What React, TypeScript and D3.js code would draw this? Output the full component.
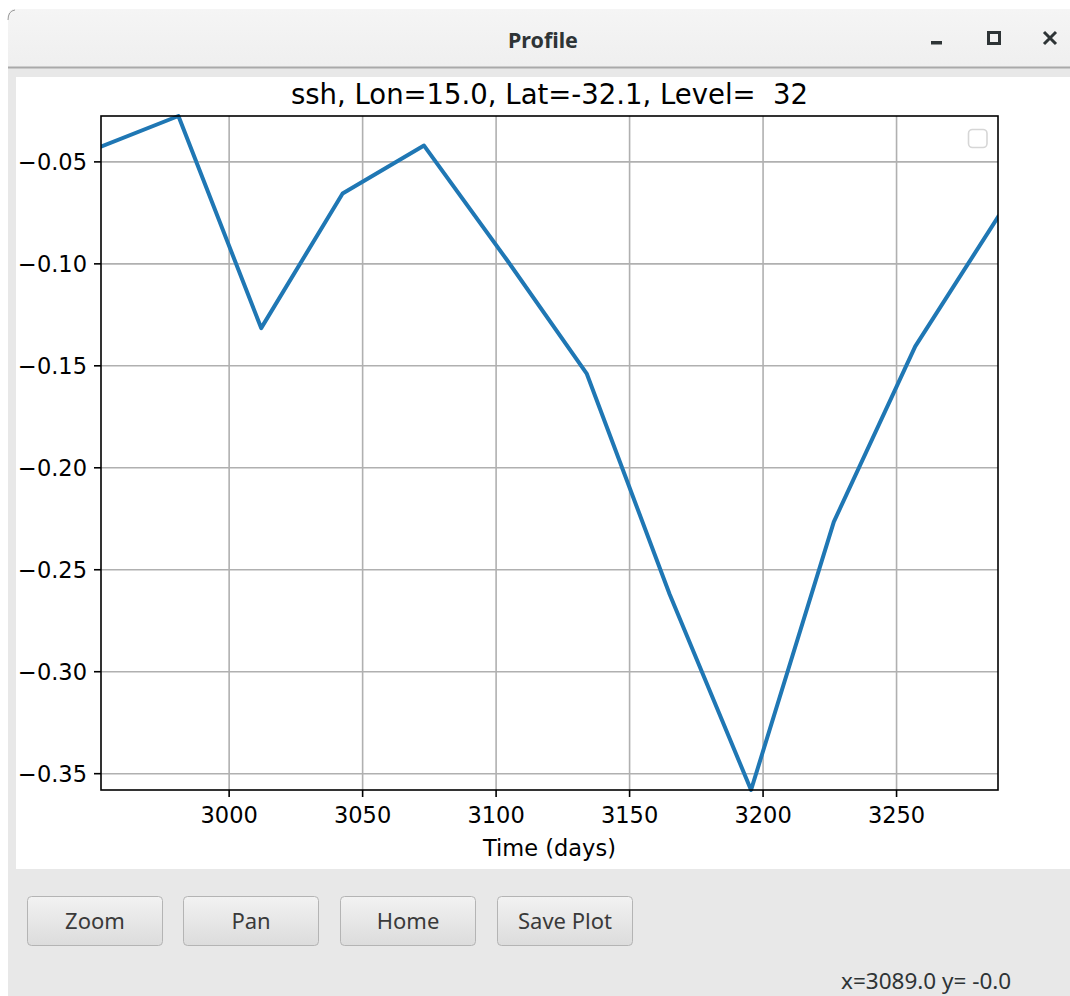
import React from "react";
import * as d3 from "d3";

const times = [2952, 2981, 3012, 3042.5, 3073, 3104, 3134, 3165, 3195.5, 3226.5, 3257, 3288];
const ssh = [-0.0425, -0.0275, -0.1315, -0.0655, -0.042, -0.098, -0.154, -0.262, -0.358, -0.2265, -0.1405, -0.077];
const xTicks = [3000, 3050, 3100, 3150, 3200, 3250];
const yTicks = [-0.05, -0.1, -0.15, -0.2, -0.25, -0.3, -0.35];
const buttons = ["Zoom", "Pan", "Home", "Save Plot"];

const W = 1070, H = 996;
const plot = { left: 101, right: 998, top: 116, bottom: 790 };
const mpl = "'DejaVu Sans', sans-serif";
const ui = "'Noto Sans', 'Open Sans', sans-serif";

export default function App() {
  const x = d3.scaleLinear().domain(d3.extent(times) as [number, number]).range([plot.left, plot.right]);
  const y = d3.scaleLinear().domain(d3.extent(ssh) as [number, number]).range([plot.bottom, plot.top]);
  const line = d3.line<number>().x((_, i) => x(times[i])).y((d) => y(d));
  const fmtY = (v: number) => d3.format(".2f")(v).replace("-", "\u2212");
  const btnX = [27, 183, 340, 497];

  return (
    <svg width={W} height={H} style={{ position: "absolute", left: 0, top: 0, display: "block" }}>
      <defs>
        <linearGradient id="tb" x1="0" x2="0" y1="0" y2="1">
          <stop offset="0" stopColor="#f5f5f5" />
          <stop offset="1" stopColor="#efefef" />
        </linearGradient>
        <linearGradient id="btn" x1="0" x2="0" y1="0" y2="1">
          <stop offset="0" stopColor="#f2f2f2" />
          <stop offset="1" stopColor="#dcdcdc" />
        </linearGradient>
        <clipPath id="clip">
          <rect x={plot.left} y={plot.top - 2} width={plot.right - plot.left} height={plot.bottom - plot.top + 4} />
        </clipPath>
      </defs>
      <rect x={0} y={0} width={W} height={H} fill="#ffffff" />
      {/* window body */}
      <path d={`M8,${H} L8,17 Q8,9 16,9 L${W},9 L${W},${H} Z`} fill="#e8e8e8" />
      {/* title bar */}
      <path d={`M8,67 L8,17 Q8,9 16,9 L${W},9 L${W},67 Z`} fill="url(#tb)" />
      <path d="M8,20 Q8,11 15,10" fill="none" stroke="#9a9a9a" strokeWidth={1} />
      <rect x={8} y={66.5} width={W - 8} height={2} fill="#a9a9a9" />
      <text x={543} y={47.5} textAnchor="middle" fontFamily={ui} fontWeight="bold" fontSize={21.5} fill="#2e3436">Profile</text>
      <rect x={931} y={41} width={11} height={3.5} fill="#2e3436" />
      <rect x={988.5} y={32.5} width={11} height={11} fill="none" stroke="#2e3436" strokeWidth={3} />
      <path d="M1044,32 L1056,44 M1056,32 L1044,44" stroke="#2e3436" strokeWidth={3} />
      {/* canvas */}
      <rect x={16} y={77} width={W - 16} height={792} fill="#ffffff" />
      {/* grid */}
      <g stroke="#b0b0b0" strokeWidth={1.6}>
        {xTicks.map((t) => (
          <line key={"gx" + t} x1={x(t)} x2={x(t)} y1={plot.top} y2={plot.bottom} />
        ))}
        {yTicks.map((t) => (
          <line key={"gy" + t} x1={plot.left} x2={plot.right} y1={y(t)} y2={y(t)} />
        ))}
      </g>
      {/* data line */}
      <path d={line(ssh) || ""} fill="none" stroke="#1f77b4" strokeWidth={4} strokeLinejoin="round" strokeLinecap="square" clipPath="url(#clip)" />
      {/* spines */}
      <rect x={plot.left} y={plot.top} width={plot.right - plot.left} height={plot.bottom - plot.top} fill="none" stroke="#000" strokeWidth={1.6} />
      {/* ticks */}
      <g stroke="#000" strokeWidth={1.6}>
        {xTicks.map((t) => (
          <line key={"tx" + t} x1={x(t)} x2={x(t)} y1={plot.bottom} y2={plot.bottom + 7} />
        ))}
        {yTicks.map((t) => (
          <line key={"ty" + t} x1={plot.left - 7} x2={plot.left} y1={y(t)} y2={y(t)} />
        ))}
      </g>
      <g fontFamily={mpl} fontSize={22.5} fill="#000">
        {xTicks.map((t) => (
          <text key={"lx" + t} x={x(t)} y={plot.bottom + 33} textAnchor="middle">{t}</text>
        ))}
        {yTicks.map((t) => (
          <text key={"ly" + t} x={plot.left - 14} y={y(t) + 8} textAnchor="end">{fmtY(t)}</text>
        ))}
        <text x={(plot.left + plot.right) / 2} y={856} textAnchor="middle">Time (days)</text>
      </g>
      <text x={(plot.left + plot.right) / 2} y={104} textAnchor="middle" fontFamily={mpl} fontSize={27.5} fill="#000" style={{ whiteSpace: "pre" }}>
        {"ssh, Lon=15.0, Lat=-32.1, Level=  32"}
      </text>
      {/* empty legend */}
      <rect x={968.5} y={129.5} width={18.5} height={18} rx={4} fill="#fff" stroke="#d6d6d6" strokeWidth={1.6} />
      {/* buttons */}
      {buttons.map((b, i) => (
        <g key={b}>
          <rect x={btnX[i] + 0.5} y={896.5} width={135} height={49} rx={4} fill="url(#btn)" stroke="#b4b4b4" strokeWidth={1} />
          <text x={btnX[i] + 68} y={929} textAnchor="middle" fontFamily={ui} fontSize={22} fill="#3a3a3a">{b}</text>
        </g>
      ))}
      <text x={841} y={989} fontFamily={ui} fontSize={22.5} fill="#2e3436" style={{ whiteSpace: "pre" }}>{"x=3089.0 y= -0.0"}</text>
    </svg>
  );
}
